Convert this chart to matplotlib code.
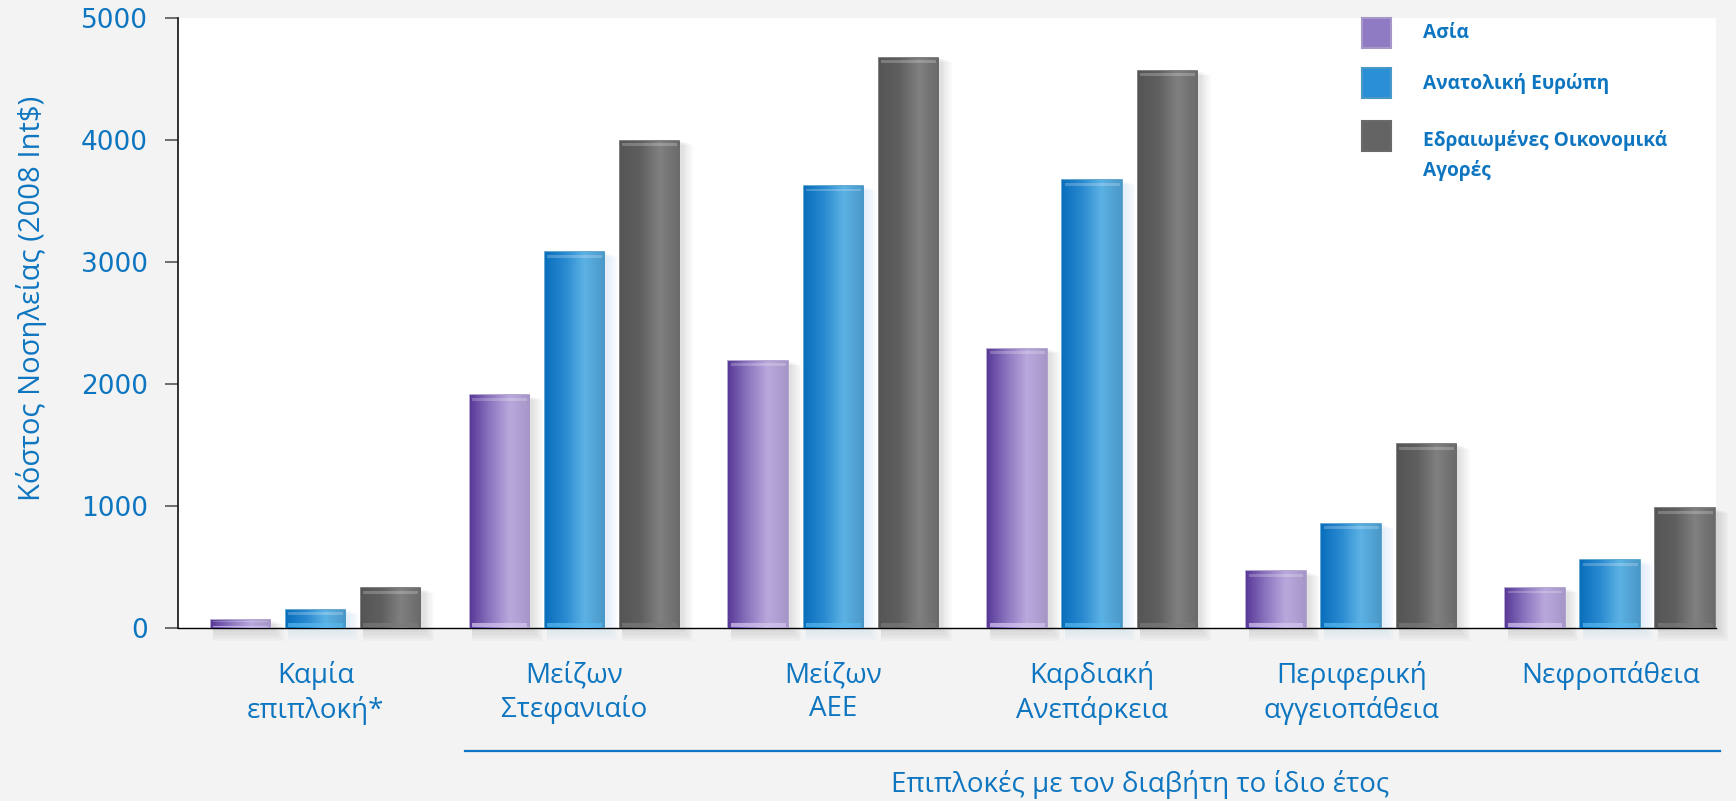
import numpy as np
import matplotlib
matplotlib.use("Agg")
import matplotlib.pyplot as plt
from matplotlib.colors import LinearSegmentedColormap
from matplotlib.patches import Rectangle
from matplotlib.lines import Line2D

categories = ["Καμία\nεπιπλοκή*", "Μείζων\nΣτεφανιαίο", "Μείζων\nΑΕΕ",
              "Καρδιακή\nΑνεπάρκεια", "Περιφερική\nαγγειοπάθεια", "Νεφροπάθεια"]
series_names = ["Ασία", "Ανατολική Ευρώπη", "Εδραιωμένες Οικονομικά\nΑγορές"]
asia = [65, 1906, 2187, 2287, 463, 327]
east_europe = [148, 3076, 3620, 3666, 853, 553]
established = [325, 3993, 4673, 4564, 1506, 980]
yticks = [0, 1000, 2000, 3000, 4000, 5000]

BLUE_TEXT = "#0E76C0"
# dark -> light -> edge tone for each series
palettes = [
    ["#5a3a98", "#8d76c0", "#b9a8dc", "#a797c8"],
    ["#0a6fbd", "#2a8ad0", "#5cb2e4", "#4a98c8"],
    ["#555555", "#5f5f5f", "#808080", "#6a6a6a"],
]
base_colors = ["#8f7ac4", "#2a8fd4", "#646464"]
bevel_colors = ["#d6c8f0", "#58b8ee", "#7a7a7a"]
shadow_colors = ["black", "#2a8fd4", "black"]

fig = plt.figure(figsize=(17.36, 8.01), dpi=100)
fig.patch.set_facecolor("#f3f3f3")
ax = fig.add_axes([0.1025, 0.216, 0.886, 0.762])
ax.set_facecolor("white")

x = np.arange(len(categories))
width = 0.23
offsets = [-0.29, 0.0, 0.29]
series = [asia, east_europe, established]

grad = np.linspace(0, 1, 64).reshape(1, -1)
for vals, off, pal, col, bev, sh in zip(series, offsets, palettes, base_colors,
                                        bevel_colors, shadow_colors):
    cmap = LinearSegmentedColormap.from_list("bar", pal)
    bars = ax.bar(x + off, vals, width, color=col, edgecolor=pal[-1],
                  linewidth=1.2, zorder=3)
    for b in bars:
        x0, w, h = b.get_x(), b.get_width(), b.get_height()
        # layered soft shadow to the right and below
        for k in range(1, 7):
            ax.add_patch(Rectangle((x0 + 0.01, -18 * k), w + 0.007 * k,
                                   h + 12 * k, facecolor=sh, alpha=0.018,
                                   linewidth=0, zorder=2, clip_on=False))
        im = ax.imshow(grad, cmap=cmap, extent=[x0, x0 + w, 0, h],
                       aspect="auto", zorder=3.5, interpolation="bilinear")
        im.set_clip_path(b)
        # bevel highlights along the top and bottom edges
        t = min(40, h * 0.25)
        ax.add_patch(Rectangle((x0 + w * 0.04, h - t * 1.1), w * 0.92, t * 0.6,
                               facecolor="white", alpha=0.22, linewidth=0,
                               zorder=4))
        ax.add_patch(Rectangle((x0 + w * 0.04, t * 0.3), w * 0.92, t * 0.7,
                               facecolor=bev, alpha=0.7, linewidth=0,
                               zorder=4))

ax.set_xlim(-0.531, 5.409)
ax.set_ylim(0, 5000)
ax.set_yticks(yticks)
ax.set_yticklabels([str(v) for v in yticks], fontsize=19, color=BLUE_TEXT,
                   family="DejaVu Sans")
ax.tick_params(axis="y", direction="out", length=9.5, width=1.2,
               color="#555555", pad=12)
ax.set_xticks(x)
ax.set_xticklabels(categories, fontsize=20, color=BLUE_TEXT, family="Open Sans",
                   linespacing=1.28)
ax.tick_params(axis="x", length=0, pad=24)

for s in ["top", "right"]:
    ax.spines[s].set_visible(False)
ax.spines["left"].set_color("#222222")
ax.spines["left"].set_linewidth(1.3)
ax.spines["bottom"].set_color("black")
ax.spines["bottom"].set_linewidth(1.0)

fig.text(0.018, 0.627, "Κόστος Νοσηλείας (2008 Int$)", rotation=90,
         ha="center", va="center", fontsize=21, color=BLUE_TEXT,
         family="Open Sans")

# group bracket under the complication categories
fig.add_artist(Line2D([0.268, 0.991], [0.0625, 0.0625], color=BLUE_TEXT,
                      lw=1.6))
fig.text(0.657, 0.02, "Επιπλοκές με τον διαβήτη το ίδιο έτος", ha="center",
         va="center", fontsize=20, color=BLUE_TEXT, family="Open Sans")

# legend: bevelled square markers with bold labels
legend_y = [0.959, 0.896, 0.806]
for name, y, c, p in zip(series_names, legend_y, base_colors, palettes):
    my = 0.830 if "\n" in name else y
    fig.add_artist(Rectangle((0.7843, my - 0.0185), 0.0167, 0.037,
                             transform=fig.transFigure, facecolor=c,
                             edgecolor=p[-1], linewidth=1.5))
    fig.text(0.8197, y, name, ha="left", va="center", fontsize=13.8,
             weight="bold", color=BLUE_TEXT, family="Open Sans",
             linespacing=1.6)

fig.savefig("out.png", dpi=100, facecolor=fig.get_facecolor())
